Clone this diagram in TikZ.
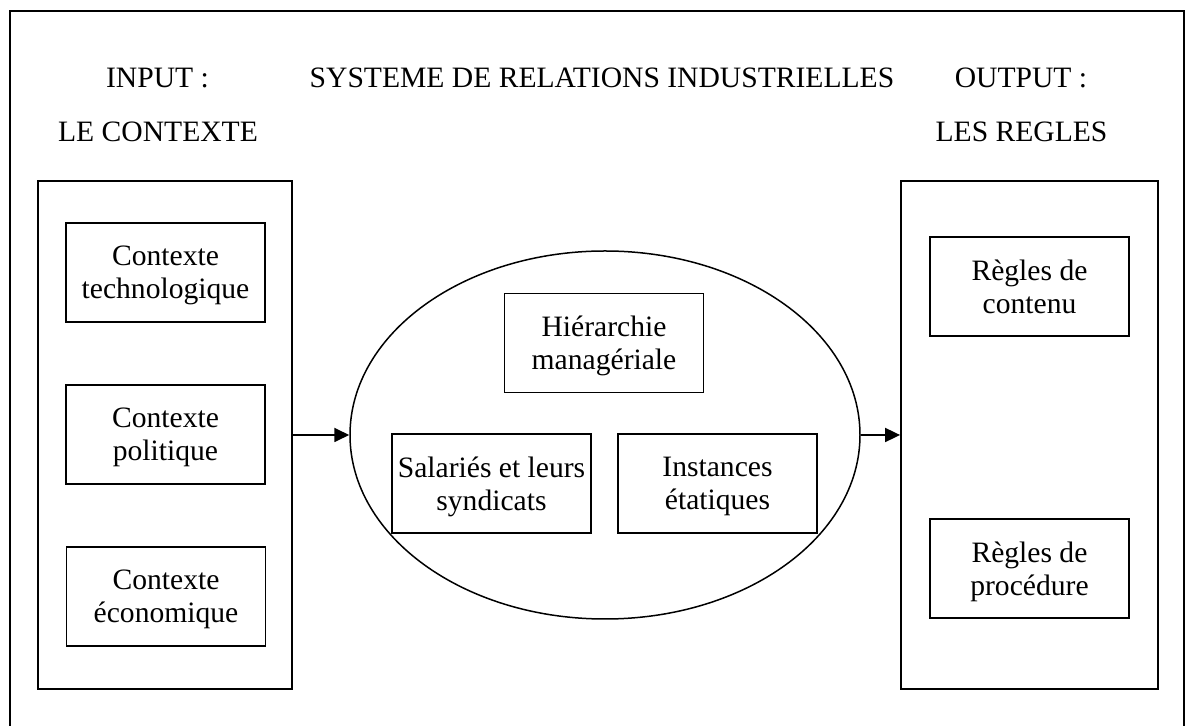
\documentclass[tikz,border=0pt]{standalone}
\usepackage{fontspec}
\setmainfont{Liberation Serif}
\usetikzlibrary{arrows.meta, shapes.geometric}

\begin{document}
\begin{tikzpicture}[x=0.5pt, y=-0.5pt, line width=0.9pt,
  box/.style={draw, minimum width=99.5pt, minimum height=49.5pt, inner sep=0pt, text depth=0pt, align=center, font=\fontsize{14.8}{16.5}\selectfont},
  frame/.style={draw, minimum width=127pt, minimum height=254pt, inner sep=0pt},
  title/.style={anchor=base, inner sep=0pt, font=\fontsize{14.8}{16.5}\selectfont},
  flow/.style={-{Triangle[length=7.5pt, width=7pt]}}]
\useasboundingbox (0, 0) rectangle (1185, 726);
\draw [line width=0.6pt] (10, 740) -- (10, 11) -- (1184, 11) -- (1184, 740);
\node [frame] (input) at (165, 435) {};
\node [frame, minimum width=128.5pt] (output) at (1029.5, 435) {};
\node [draw, ellipse, line width=0.75pt, minimum width=255pt, minimum height=184pt, inner sep=0pt] (sri) at (605, 435) {};
\node [box] (techno) at (165.5, 272.5) {Contexte\\technologique};
\node [box] (politique) at (165.5, 434.5) {Contexte\\politique};
\node [box] (eco) at (166, 596.5) {Contexte\\économique};
\node [box] (hierarchie) at (604, 343) {Hiérarchie\\managériale};
\node [box] (salaries) at (491.5, 483.5) {Salariés et leurs\\syndicats};
\node [box] (instances) at (717.5, 483.5) {Instances\\étatiques};
\node [box] (contenu) at (1029.5, 286.5) {Règles de\\contenu};
\node [box] (procedure) at (1029.5, 568.5) {Règles de\\procédure};
\draw [flow] (input.east) -- (sri.west);
\draw [flow] (sri.east) -- (output.west);
%Text
\node [title] (inputlbl) at (157.5, 88) {INPUT :};
\node [title] (contexte) at (158, 142) {LE CONTEXTE};
\node [title] (systeme) at (602, 88) {SYSTEME DE RELATIONS INDUSTRIELLES};
\node [title] (outputlbl) at (1021, 88) {OUTPUT :};
\node [title] (regles) at (1021.5, 142) {LES REGLES};
\end{tikzpicture}
\end{document}
